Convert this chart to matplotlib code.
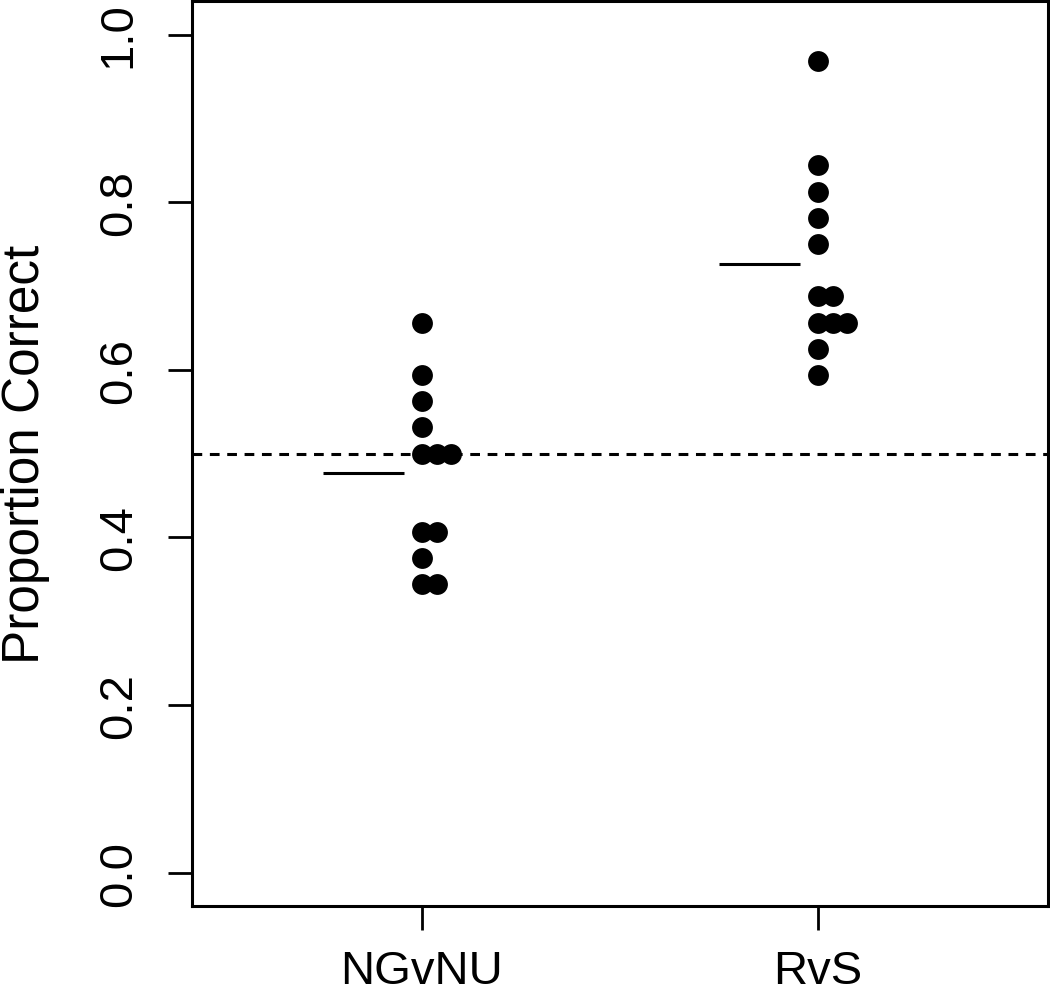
import numpy as np
import matplotlib
matplotlib.use("Agg")
import matplotlib.pyplot as plt

plt.rcParams["font.family"] = ["Liberation Sans", "DejaVu Sans"]
plt.rcParams["lines.scale_dashes"] = False

groups = ["NGvNU", "RvS"]
ngvnu = [0.65625, 0.59375, 0.5625, 0.53125, 0.5, 0.5, 0.5,
         0.40625, 0.40625, 0.375, 0.34375, 0.34375]
rvs = [0.96875, 0.84375, 0.8125, 0.78125, 0.75, 0.6875, 0.6875,
       0.65625, 0.65625, 0.65625, 0.625, 0.59375]
chance = 0.5
yticks = [0.0, 0.2, 0.4, 0.6, 0.8, 1.0]

fig = plt.figure(figsize=(10.5, 9.95), dpi=100)
ax = fig.add_axes([0.183, 0.0884, 0.815, 0.9096])

stack_step = 0.037
for i, vals in enumerate([ngvnu, rvs], start=1):
    # stack equal values sideways, like R's stripchart(method="stack")
    seen = {}
    xs = []
    for v in vals:
        k = seen.get(v, 0)
        xs.append(i + k * stack_step)
        seen[v] = k + 1
    ax.plot(xs, vals, "o", color="black", markersize=15,
            markeredgewidth=0, zorder=3)
    ax.plot([i - 0.25, i - 0.045], [np.mean(vals)] * 2, color="black",
            lw=2.2, solid_capstyle="butt")

ax.axhline(chance, color="black", lw=2.2, linestyle=(0, (7, 5.5)))

ax.set_xlim(0.42, 2.58)
ax.set_ylim(-0.04, 1.04)
ax.set_xticks([1, 2])
ax.set_xticklabels(groups, fontsize=34)
ax.set_yticks(yticks)
ax.set_yticklabels([f"{t:.1f}" for t in yticks], fontsize=34,
                   rotation=90, va="center")
ax.set_ylabel("Proportion Correct", fontsize=37, labelpad=34)

for s in ax.spines.values():
    s.set_linewidth(2.2)
ax.tick_params(axis="both", length=17, width=2.0)
ax.tick_params(axis="y", pad=20)
ax.tick_params(axis="x", pad=14)

fig.savefig("out.png", dpi=100)
